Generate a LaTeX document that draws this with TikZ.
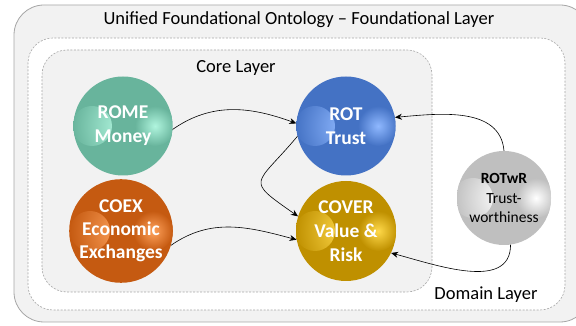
\documentclass[tikz,border=0pt]{standalone}
\usepackage{fontspec}
\setmainfont{Carlito}
\usetikzlibrary{arrows.meta}

\definecolor{layerGray}{HTML}{F2F2F2}
\definecolor{lineGray}{HTML}{A6A6A6}
\definecolor{romeTeal}{HTML}{68B49C}
\definecolor{romeGlow}{HTML}{B0F5DE}
\definecolor{coexOrange}{HTML}{C55A11}
\definecolor{coexGlow}{HTML}{FFA25C}
\definecolor{rotBlue}{HTML}{4472C4}
\definecolor{rotGlow}{HTML}{8FB8FF}
\definecolor{coverGold}{HTML}{BF9000}
\definecolor{coverGlow}{HTML}{FFD94A}
\definecolor{rotwrGray}{HTML}{BFBFBF}

\begin{document}
\begin{tikzpicture}[x=1pt,y=1pt]
        \tikzset{ball/.style 2 args={circle, minimum size=99pt, inner sep=0pt,
                fill=#1, text=white, align=center,
                font=\bfseries\fontsize{19.5}{24}\selectfont,
                path picture={
                    \shade[inner color=#2, outer color=#1]
                        ([xshift=-31pt]path picture bounding box.center) circle (20pt);
                    \shade[inner color=#2, outer color=#1]
                        ([xshift=32pt]path picture bounding box.center) circle (20pt);}},
            layer/.style={draw=lineGray, dash pattern=on 2pt off 1.5pt, line width=0.6pt, rounded corners=25pt},
            caption/.style={font=\fontsize{18.5}{22}\selectfont},
            link/.style={-{Stealth[length=7pt,width=6pt]}, line width=0.6pt}}
        \useasboundingbox (0,0) rectangle (576,326);
        % layers
        \draw[draw=lineGray, line width=0.8pt, fill=layerGray, rounded corners=30pt] (14,4) rectangle (590,321);
        \draw[layer, fill=white] (28,16) rectangle (565,288);
        \draw[layer, fill=layerGray] (42,34) rectangle (432,276);
        \node[caption] (ufo) at (299,306) {Unified Foundational Ontology – Foundational Layer};
        \node[caption] (core) at (236,258) {Core Layer};
        \node[caption] (domain) at (486,31) {Domain Layer};
        % ontologies
        \node[ball={romeTeal}{romeGlow}] (rome) at (123,200) {ROME\\Money};
        \node[ball={coexOrange}{coexGlow}, minimum size=100pt,
            font=\bfseries\fontsize{19.5}{23}\selectfont] (coex) at (121,95) {COEX\\Economic\\Exchanges};
        \node[ball={rotBlue}{rotGlow}] (rot) at (346,200) {ROT\\Trust};
        \node[ball={coverGold}{coverGlow}, minimum size=100pt] (cover) at (346,95) {COVER\\Value \&\\Risk};
        \node[ball={rotwrGray}{white}, minimum size=94pt, text=black,
            font=\fontsize{15.5}{19.5}\selectfont] (rotwr) at (504,128) {\textbf{ROTwR}\\Trust-\\worthiness};
        % dependencies
        \draw[link] (rome.-4) to[out=35,in=160] (rot.177);
        \draw[link] (coex.-16) to[out=35,in=165] (cover.190);
        \draw[link] (rot.192) to[out=230,in=145,looseness=2.1] (cover.163);
        \draw[link] (rotwr.90) to[out=95,in=5] (rot.10);
        \draw[link] (rotwr.-82) to[out=-90,in=-15] (cover.-26);
    \end{tikzpicture}
\end{document}
